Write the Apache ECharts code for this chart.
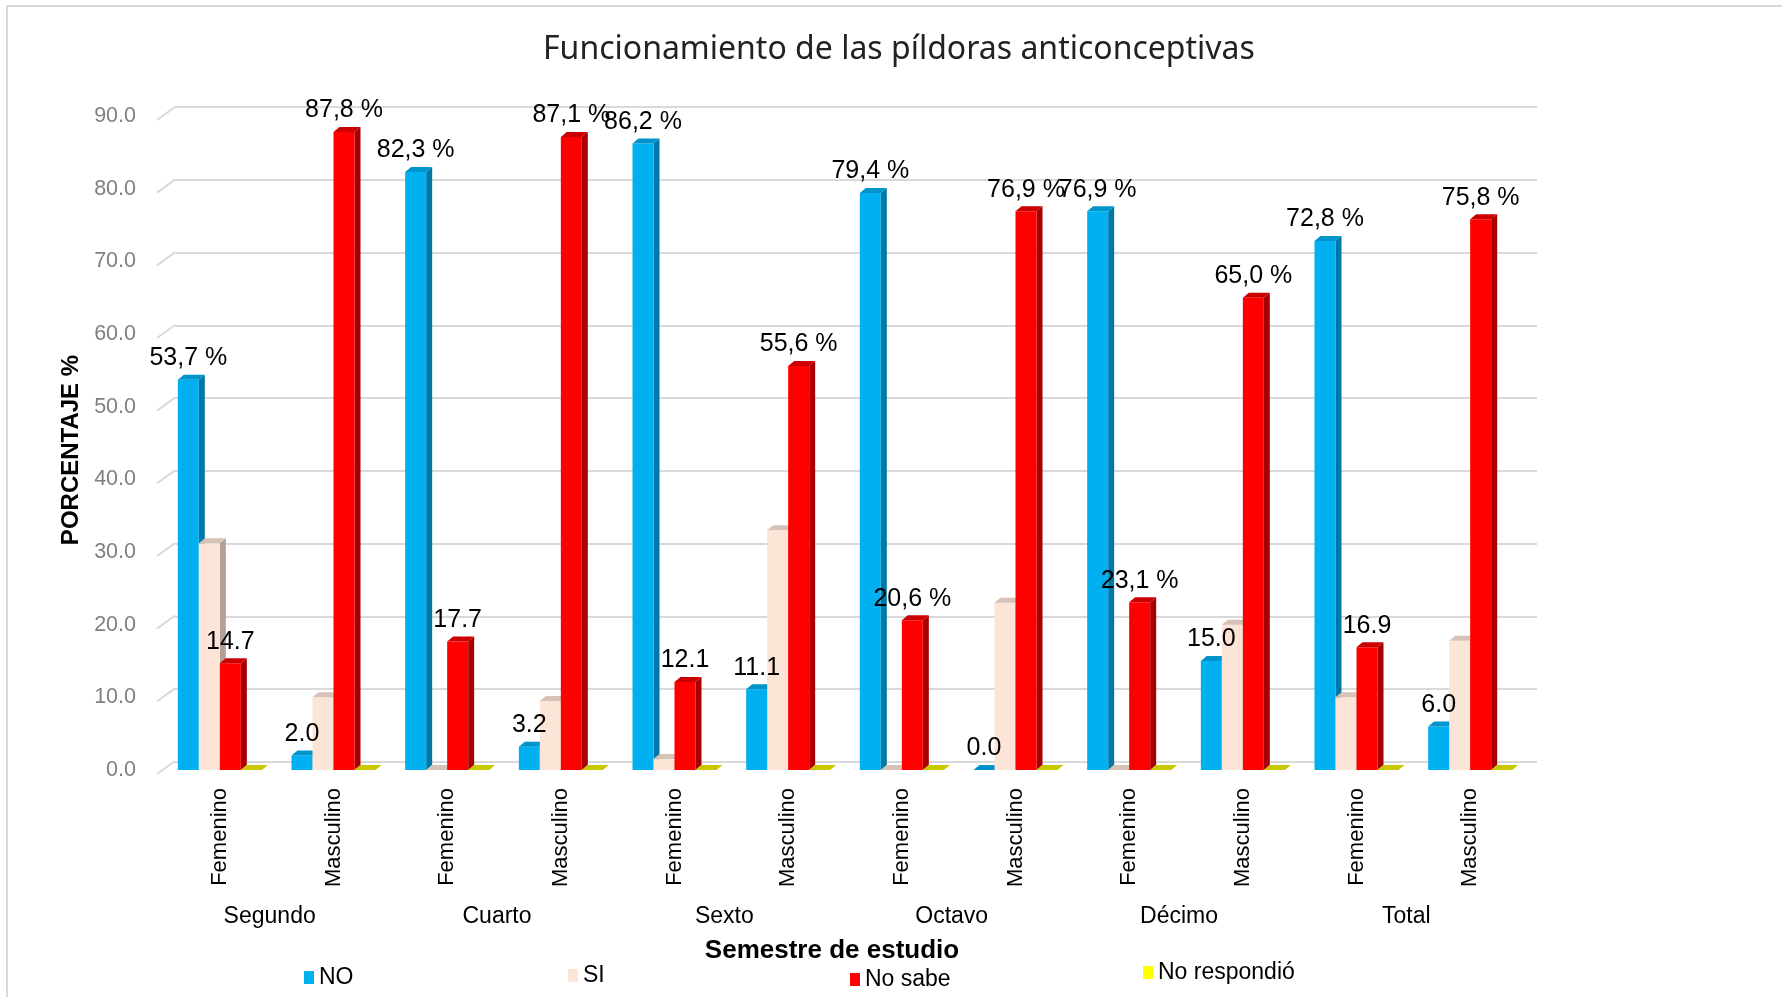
<!DOCTYPE html>
<html>
<head>
<meta charset="utf-8">
<title>Funcionamiento de las píldoras anticonceptivas</title>
<script src="https://cdn.jsdelivr.net/npm/echarts@6/dist/echarts.min.js"></script>
<style>
  html, body { margin: 0; padding: 0; background: #fff; }
  #chart { width: 1782px; height: 997px; }
</style>
</head>
<body>
<div id="chart"></div>
<script>
// categories
const sexes = ['Femenino', 'Masculino', 'Femenino', 'Masculino', 'Femenino', 'Masculino',
  'Femenino', 'Masculino', 'Femenino', 'Masculino', 'Femenino', 'Masculino'];
const semesters = ['Segundo', 'Cuarto', 'Sexto', 'Octavo', 'Décimo', 'Total'];

// series values (%)
const noValues = [53.7, 2.0, 82.3, 3.2, 86.2, 11.1, 79.4, 0.0, 76.9, 15.0, 72.8, 6.0];
const siValues = [31.2, 10.0, 0.0, 9.5, 1.5, 33.0, 0.0, 23.0, 0.0, 20.0, 10.0, 17.8];
const noSabeValues = [14.7, 87.8, 17.7, 87.1, 12.1, 55.6, 20.6, 76.9, 23.1, 65.0, 16.9, 75.8];
const noRespondioValues = [0, 0, 0, 0, 0, 0, 0, 0, 0, 0, 0, 0];

// data labels as printed on the chart
const noLabels = ['53,7 %', '2.0', '82,3 %', '3.2', '86,2 %', '11.1', '79,4 %', '0.0', '76,9 %', '15.0', '72,8 %', '6.0'];
const noSabeLabels = ['14.7', '87,8 %', '17.7', '87,1 %', '12.1', '55,6 %', '20,6 %', '76,9 %', '23,1 %', '65,0 %', '16.9', '75,8 %'];

const yTicks = [0, 10, 20, 30, 40, 50, 60, 70, 80, 90];

const FONT = '"Liberation Sans", Arial, sans-serif';
const GRID_LEFT = 163;
const WALL_LEFT = 175;
const BAR_W = 21;
const DEPTH_X = 6;
const DEPTH_Y = 5;

const seriesDefs = [
  { name: 'NO', data: noValues, labels: noLabels, front: '#00B0F0', side: '#0078A6', top: '#0094CC' },
  { name: 'SI', data: siValues, labels: null, front: '#FCE4D6', side: '#B3A095', top: '#D6C2B6' },
  { name: 'No sabe', data: noSabeValues, labels: noSabeLabels, front: '#FF0000', side: '#A80000', top: '#CC0000' },
  { name: 'No respondió', data: noRespondioValues, labels: null, front: '#FFFF00', side: '#9C9C00', top: '#C8C800' }
];

const chart = echarts.init(document.getElementById('chart'));

// fake 3D column: side face, front face, top face
function bar3d(idx, def) {
  return function (params, api) {
    const ci = api.value(0);
    const base = api.coord([ci, 0]);
    const top = api.coord([ci, api.value(1)]);
    const x0 = base[0] + (idx - 2) * BAR_W;
    const yb = base[1];
    const yt = top[1];
    return {
      type: 'group',
      children: [
        {
          type: 'polygon',
          shape: { points: [[x0 + BAR_W, yt], [x0 + BAR_W + DEPTH_X, yt - DEPTH_Y], [x0 + BAR_W + DEPTH_X, yb - DEPTH_Y], [x0 + BAR_W, yb]] },
          style: { fill: def.side }
        },
        {
          type: 'rect',
          shape: { x: x0, y: yt, width: BAR_W, height: yb - yt },
          style: { fill: def.front }
        },
        {
          type: 'polygon',
          shape: { points: [[x0, yt], [x0 + DEPTH_X, yt - DEPTH_Y], [x0 + BAR_W + DEPTH_X, yt - DEPTH_Y], [x0 + BAR_W, yt]] },
          style: { fill: def.top }
        }
      ]
    };
  };
}

function barLabel(idx, def) {
  return function (params, api) {
    const ci = api.value(0);
    const base = api.coord([ci, 0]);
    const top = api.coord([ci, api.value(1)]);
    const x0 = base[0] + (idx - 2) * BAR_W;
    return {
      type: 'text',
      style: {
        text: def.labels[params.dataIndex],
        x: x0 + BAR_W / 2,
        y: top[1] - 9,
        align: 'center',
        verticalAlign: 'bottom',
        font: '25px ' + FONT,
        fill: '#000'
      }
    };
  };
}

const series = [];

// diagonal stubs of the 3D wall gridlines
series.push({
  type: 'custom',
  silent: true,
  xAxisIndex: 0,
  yAxisIndex: 0,
  clip: false,
  z: 1,
  data: yTicks.map(v => [0, v]),
  renderItem: function (params, api) {
    const y = api.coord([0, api.value(1)])[1];
    return {
      type: 'line',
      shape: { x1: GRID_LEFT - 6, y1: y + 4, x2: WALL_LEFT, y2: y - 9 },
      style: { stroke: '#D9D9D9', lineWidth: 2 }
    };
  }
});

seriesDefs.forEach((def, idx) => {
  series.push({
    name: def.name,
    type: 'custom',
    xAxisIndex: 0,
    yAxisIndex: 0,
    clip: false,
    z: 2,
    itemStyle: { color: def.front },
    data: def.data.map((v, i) => [i, v]),
    encode: { x: 0, y: 1 },
    renderItem: bar3d(idx, def)
  });
});

seriesDefs.forEach((def, idx) => {
  if (!def.labels) return;
  series.push({
    name: def.name + ' etiquetas',
    type: 'custom',
    silent: true,
    xAxisIndex: 0,
    yAxisIndex: 0,
    clip: false,
    z: 5,
    data: def.data.map((v, i) => [i, v]),
    encode: { x: 0, y: 1 },
    renderItem: barLabel(idx, def)
  });
});

const legendBase = {
  padding: 0,
  icon: 'rect',
  itemWidth: 10,
  itemHeight: 13,
  textStyle: { fontSize: 23, color: '#000', fontFamily: FONT }
};

const option = {
  animation: false,
  backgroundColor: '#fff',
  title: {
    text: 'Funcionamiento de las píldoras anticonceptivas',
    left: 538,
    top: 29,
    textStyle: { fontFamily: '"Noto Sans", sans-serif', fontSize: 32, fontWeight: 'normal', color: '#222' }
  },
  legend: [
    Object.assign({ data: ['NO'], left: 304, top: 966 }, legendBase),
    Object.assign({ data: ['SI'], left: 568, top: 964 }, legendBase),
    Object.assign({ data: ['No sabe'], left: 850, top: 968 }, legendBase),
    Object.assign({ data: ['No respondió'], left: 1143, top: 961 }, legendBase)
  ],
  graphic: [{
    type: 'rect',
    silent: true,
    shape: { x: 7, y: 6, width: 1800, height: 1000 },
    style: { fill: 'none', stroke: '#D9D9D9', lineWidth: 2 }
  }],
  grid: [
    { left: GRID_LEFT, right: 1782 - 1527, top: 116, bottom: 227 },
    { left: WALL_LEFT, right: 1782 - 1537, top: 107, bottom: 235 }
  ],
  xAxis: [
    {
      gridIndex: 0,
      type: 'category',
      data: sexes,
      axisLine: { show: false },
      axisTick: { show: false },
      axisLabel: { rotate: 90, margin: 18, fontSize: 22, color: '#000', fontFamily: FONT },
      name: 'Semestre de estudio',
      nameLocation: 'middle',
      nameGap: 168,
      nameMoveOverlap: false,
      nameTextStyle: { fontSize: 26, fontWeight: 'bold', color: '#000', fontFamily: FONT, padding: [0, 26, 0, 0] }
    },
    {
      gridIndex: 0,
      type: 'category',
      position: 'bottom',
      data: semesters,
      axisLine: { show: false },
      axisTick: { show: false },
      splitLine: { show: false },
      axisLabel: { margin: 135, fontSize: 23, color: '#000', fontFamily: FONT, padding: [0, 14, 0, 0] }
    },
    {
      gridIndex: 1,
      type: 'category',
      data: sexes,
      show: false
    }
  ],
  yAxis: [
    {
      gridIndex: 0,
      type: 'value',
      min: 0,
      max: 90,
      interval: 10,
      axisLine: { show: false },
      axisTick: { show: false },
      splitLine: { show: false },
      axisLabel: {
        formatter: v => v.toFixed(1),
        margin: 27,
        fontSize: 21.5,
        color: '#7F7F7F',
        fontFamily: FONT,
        padding: [16, 0, 0, 0]
      },
      name: 'PORCENTAJE %',
      nameLocation: 'middle',
      nameGap: 80,
      nameMoveOverlap: false,
      nameTextStyle: { fontSize: 24, fontWeight: 'bold', color: '#000', fontFamily: FONT, padding: [0, 14, 0, 0] }
    },
    {
      gridIndex: 1,
      type: 'value',
      min: 0,
      max: 90,
      interval: 10,
      axisLine: { show: false },
      axisTick: { show: false },
      axisLabel: { show: false },
      splitLine: { lineStyle: { color: '#D9D9D9', width: 2 } }
    }
  ],
  series: series
};

chart.setOption(option);
window.addEventListener('resize', () => chart.resize());
</script>
</body>
</html>
